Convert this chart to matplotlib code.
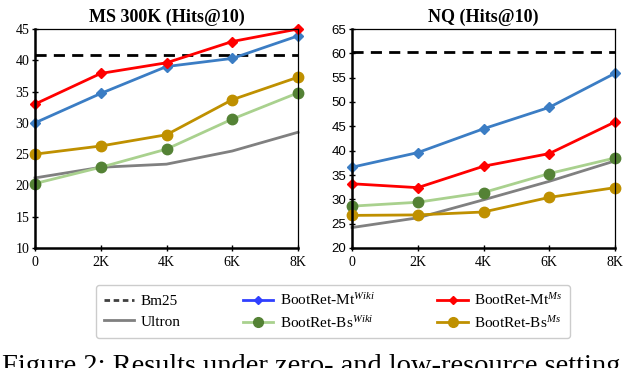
import numpy as np
import matplotlib
matplotlib.use("Agg")
import matplotlib.pyplot as plt
from matplotlib.lines import Line2D

plt.rcParams['font.family'] = ['Liberation Serif', 'DejaVu Serif']
plt.rcParams['mathtext.fontset'] = 'custom'
plt.rcParams['mathtext.rm'] = 'Liberation Serif'
plt.rcParams['mathtext.it'] = 'Liberation Serif:italic'

# data
x_labels = ["0", "2K", "4K", "6K", "8K"]
x_pos = [0, 2, 4, 6, 8]

ms_bm25 = 40.8
ms_mt_wiki = [30.0, 34.7, 39.0, 40.3, 43.9]
ms_mt_ms = [33.0, 37.9, 39.6, 43.0, 45.0]
ms_bs_wiki = [20.3, 22.9, 25.8, 30.6, 34.8]
ms_bs_ms = [25.0, 26.3, 28.1, 33.7, 37.3]
ms_ultron = [21.2, 22.9, 23.4, 25.5, 28.5]

nq_bm25 = 60.2
nq_mt_wiki = [36.6, 39.6, 44.5, 48.9, 55.9]
nq_mt_ms = [33.2, 32.4, 36.8, 39.4, 45.9]
nq_bs_wiki = [28.6, 29.4, 31.4, 35.3, 38.5]
nq_bs_ms = [26.7, 26.8, 27.4, 30.4, 32.4]
nq_ultron = [24.2, 26.2, 29.9, 33.7, 37.9]

c_blue = '#3b7dc4'
c_red = '#ff0000'
c_lgreen = '#a9d18e'
c_dgreen = '#548235'
c_gold = '#bf9000'
c_gray = '#808080'

fig = plt.figure(figsize=(6.24, 3.68), dpi=100)
ax1 = fig.add_axes([35/624, 1-248/368, 263/624, 219/368])
ax2 = fig.add_axes([352/624, 1-248/368, 263/624, 219/368])


def draw(ax, bm25, mt_wiki, mt_ms, bs_wiki, bs_ms, ultron, ylim, title, ytick_font):
    ax.plot([0, 8], [bm25, bm25], color='black', lw=2, dashes=(4, 2.6), clip_on=False)
    ax.plot(x_pos, ultron, color=c_gray, lw=2, clip_on=False)
    ax.plot(x_pos, bs_wiki, color=c_lgreen, lw=2, marker='o', ms=7.5,
            mfc=c_dgreen, mec=c_dgreen, clip_on=False)
    ax.plot(x_pos, bs_ms, color=c_gold, lw=2, marker='o', ms=7.5, clip_on=False)
    ax.plot(x_pos, mt_wiki, color=c_blue, lw=2, marker='D', ms=5.5, clip_on=False)
    ax.plot(x_pos, mt_ms, color=c_red, lw=2, marker='D', ms=5.5, clip_on=False)
    ax.set_xlim(0, 8)
    ax.set_ylim(*ylim)
    ax.set_yticks(np.arange(ylim[0], ylim[1] + 1, 5))
    ax.set_xticks(x_pos)
    ax.set_xticklabels(x_labels, fontsize=10)
    for lab in ax.get_yticklabels():
        lab.set_fontfamily(ytick_font)
        lab.set_fontsize(10 if ytick_font == 'Liberation Serif' else 9.5)
    ax.tick_params(direction='inout', length=4, width=1, pad=2)
    ax.tick_params(axis='x', pad=4)
    ax.spines['left'].set_linewidth(1.8)
    ax.spines['bottom'].set_linewidth(1.8)
    ax.spines['top'].set_linewidth(0.9)
    ax.spines['right'].set_linewidth(0.9)
    ax.set_title(title, fontsize=13, fontweight='bold', pad=5)


draw(ax1, ms_bm25, ms_mt_wiki, ms_mt_ms, ms_bs_wiki, ms_bs_ms, ms_ultron,
     (10, 45), "MS 300K (Hits@10)", 'Liberation Serif')
draw(ax2, nq_bm25, nq_mt_wiki, nq_mt_ms, nq_bs_wiki, nq_bs_ms, nq_ultron,
     (20, 65), "NQ (Hits@10)", 'Liberation Sans')

handles = [
    Line2D([], [], color='#404040', lw=2, dashes=(2, 1.3)),
    Line2D([], [], color=c_gray, lw=2),
    Line2D([], [], color='#3040ff', lw=2, marker='D', ms=4.5),
    Line2D([], [], color=c_lgreen, lw=2, marker='o', ms=7, mfc=c_dgreen, mec=c_dgreen),
    Line2D([], [], color=c_red, lw=2, marker='D', ms=4.5),
    Line2D([], [], color=c_gold, lw=2, marker='o', ms=7),
]
labels = [
    "Bm25", "Ultron",
    r"BootRet-Mt$^{\mathit{Wiki}}$", r"BootRet-Bs$^{\mathit{Wiki}}$",
    r"BootRet-Mt$^{\mathit{Ms}}$", r"BootRet-Bs$^{\mathit{Ms}}$",
]
leg = fig.legend(handles, labels, ncol=3, loc='center',
                 bbox_to_anchor=(333/624, 1-311.5/368), fontsize=11,
                 frameon=True, fancybox=True, edgecolor='#c0c0c0',
                 handlelength=2.0, handletextpad=0.4, columnspacing=4.1,
                 labelspacing=0.45, borderpad=0.5)
leg.get_frame().set_linewidth(1.0)

fig.text(2/624, 1-354/368, "Figure 2: Results under zero- and low-resource setting",
         fontsize=20.5, va='top', ha='left')

fig.savefig("out.png", dpi=100)
